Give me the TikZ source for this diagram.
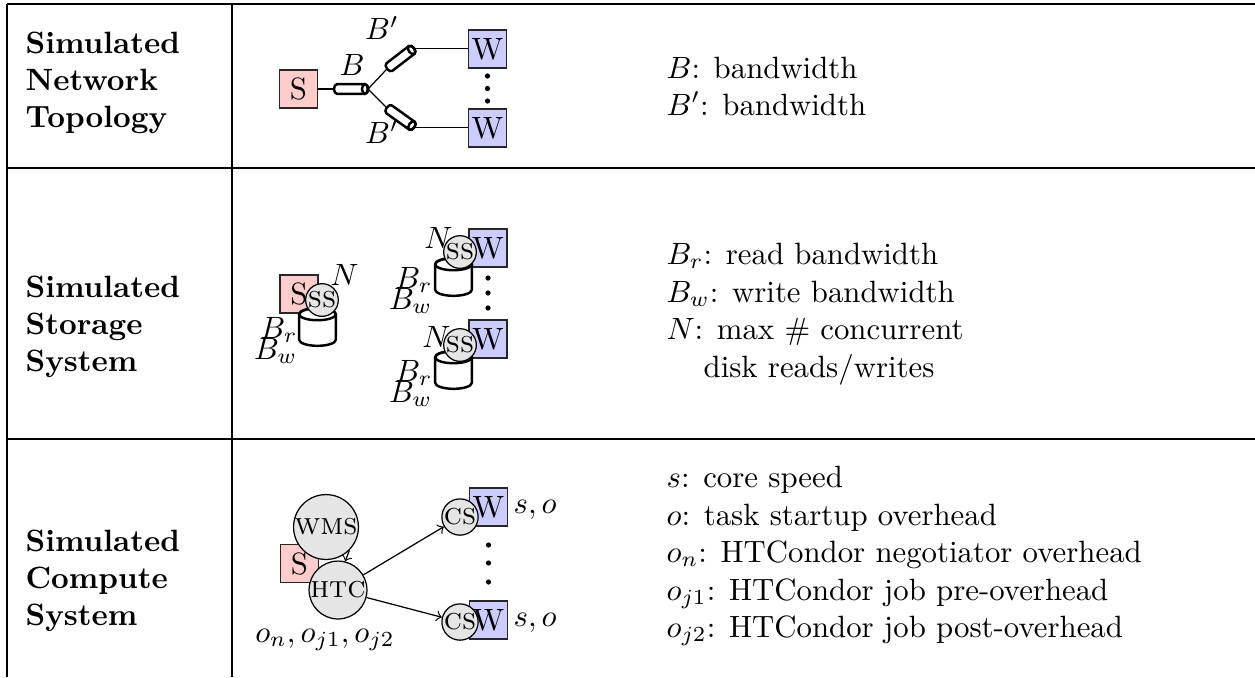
\documentclass[tikz,border=0pt]{standalone}
\usetikzlibrary{shapes.geometric}
\begin{document}
\begin{tikzpicture}[x=0.3247pt,y=-0.3247pt,
  box/.style={draw=black!85, line width=0.4pt, minimum size=12.3pt, inner sep=0pt},
  sbox/.style={box, fill=red!20},
  wbox/.style={box, fill=blue!20},
  svc/.style={circle, draw, line width=0.4pt, fill=gray!20, inner sep=0pt},
  wire/.style={line width=0.4pt},
  tabrule/.style={line width=0.4pt},
  cellhead/.style={font=\bfseries, anchor=base west, inner sep=0pt},
  celltext/.style={anchor=base west, inner sep=0pt},
  lbl/.style={inner sep=0pt},
  lblr/.style={anchor=base east, inner sep=0pt},
  % network link: a short pipe lying along the local x axis, front face at +x
  pics/pipe/.style={code={
    \draw[line width=0.8pt, fill=white] (-14,-4.8) -- (14,-4.8)
      arc[start angle=-90, end angle=90, x radius=3, y radius=4.8]
      -- (-14,4.8) arc[start angle=90, end angle=270, x radius=3, y radius=4.8] -- cycle;
    \draw[line width=0.8pt] (14,0) ellipse[x radius=3, y radius=4.8];
    \coordinate (-a) at (-17,0);
    \coordinate (-b) at (17,0);
  }},
  % storage disk: an upright cylinder
  pics/disk/.style={code={
    \draw[line width=0.8pt, fill=white] (-18.3,-12.8) -- (-18.3,12.8)
      arc[start angle=180, end angle=0, x radius=18.3, y radius=6]
      -- (18.3,-12.8) arc[start angle=0, end angle=-180, x radius=18.3, y radius=6] -- cycle;
    \draw[line width=0.8pt] (0,-12.8) ellipse[x radius=18.3, y radius=6];
    \coordinate (-c) at (0,0);
  }},
]
\useasboundingbox (0,0) rectangle (1255,677);

% table rules
\draw[line width=0.8pt] (7,4) -- (1255,4);
\draw[tabrule] (7,168) -- (1255,168);
\draw[tabrule] (7,439) -- (1255,439);
\draw[tabrule] (7,4) -- (7,677);
\draw[tabrule] (232,4) -- (232,677);

% row headings
\node[cellhead] (h1a) at (25,53) {Simulated};
\node[cellhead] (h1b) at (25,90) {Network};
\node[cellhead] (h1c) at (25,127) {Topology};
\node[cellhead] (h2a) at (25,297) {Simulated};
\node[cellhead] (h2b) at (25,334) {Storage};
\node[cellhead] (h2c) at (25,371) {System};
\node[cellhead] (h3a) at (25,551) {Simulated};
\node[cellhead] (h3b) at (25,588) {Compute};
\node[cellhead] (h3c) at (25,625) {System};

% parameter descriptions
\node[celltext] (d1a) at (666,78) {$B$: bandwidth};
\node[celltext] (d1b) at (666,115) {$B'$: bandwidth};
\node[celltext] (d2a) at (666,264) {$B_r$: read bandwidth};
\node[celltext] (d2b) at (666,302) {$B_w$: write bandwidth};
\node[celltext] (d2c) at (666,339) {$N$: max \# concurrent};
\node[celltext] (d2d) at (703,377) {disk reads/writes};
\node[celltext] (d3a) at (666,487) {$s$: core speed};
\node[celltext] (d3b) at (666,525) {$o$: task startup overhead};
\node[celltext] (d3c) at (666,562) {$o_n$: HTCondor negotiator overhead};
\node[celltext] (d3d) at (666,600) {$o_{j1}$: HTCondor job pre-overhead};
\node[celltext] (d3e) at (666,637) {$o_{j2}$: HTCondor job post-overhead};

% --- network topology ---
\node[sbox] (s1) at (298.5,89) {S};
\node[wbox] (w1) at (487.5,49) {W};
\node[wbox] (w2) at (487.5,128) {W};
\node[lbl] (lb) at (352,65) {$B$};
\node[lbl] (lbu) at (382,28) {$B'$};
\node[lbl] (lbl) at (382,132) {$B'$};
\pic (cb) at (351,89) {pipe};
\pic[rotate=37.6] (cu) at (400.5,58.5) {pipe};
\pic[rotate=-35.5] (cl) at (400.5,117.5) {pipe};
\draw[wire] (s1.east) -- (cb-a);
\draw[wire] (cb-b) -- (cu-a);
\draw[wire] (cb-b) -- (cl-a);
\draw[wire] (cu-b) -- (cu-b -| w1.west);
\draw[wire] (cl-b) -- (cl-b -| w2.west);
\foreach \y in {76,88.5,101} \fill (487.5,\y) circle[radius=0.85pt];

% --- storage system ---
\node[sbox] (s2) at (299,294) {S};
\pic (k0) at (317.5,327) {disk};
\node[svc] (q0) at (322,300) {\textsc{ss}};
\node[lbl] (n0) at (344.5,275) {$N$};
\node[lblr] (r0) at (298,338) {$B_r$};
\node[lblr] (v0) at (298,359) {$B_w$};

\node[wbox] (w3) at (488,248) {W};
\pic (k1) at (453.5,277) {disk};
\node[svc] (q1) at (460,252) {\textsc{ss}};
\node[lbl] (n1) at (438.5,238) {$N$};
\node[lblr] (r1) at (433,288) {$B_r$};
\node[lblr] (v1) at (433,309) {$B_w$};

\node[wbox] (w4) at (488,339) {W};
\pic (k2) at (453.5,370) {disk};
\node[svc] (q2) at (460,345) {\textsc{ss}};
\node[lbl] (n2) at (436.5,337) {$N$};
\node[lblr] (r2) at (433,381) {$B_r$};
\node[lblr] (v2) at (433,402) {$B_w$};
\foreach \y in {278,293,308} \fill (488,\y) circle[radius=0.85pt];

% --- compute system ---
\node[sbox] (s3) at (299.5,563.5) {S};
\node[svc, minimum size=18.2pt] (wms) at (326,527) {\textsc{wms}};
\node[svc, minimum size=18.8pt] (htc) at (338,590) {\textsc{htc}};
\draw[wire, ->] (wms.-45) -- (htc.76);
\node[wbox] (w5) at (488.5,507) {W};
\node[wbox] (w6) at (488.5,620) {W};
\node[svc] (cs1) at (460,517) {\textsc{cs}};
\node[svc] (cs2) at (460,622) {\textsc{cs}};
\draw[wire, ->] (htc) -- (cs1);
\draw[wire, ->] (htc) -- (cs2);
\node[celltext] (so1) at (513,513) {$s, o$};
\node[celltext] (so2) at (513,626) {$s, o$};
\node[anchor=base, inner sep=0pt] (ov) at (325,642) {$o_n, o_{j1}, o_{j2}$};
\foreach \y in {545,563,582} \fill (488.5,\y) circle[radius=0.85pt];
\end{tikzpicture}
\end{document}
